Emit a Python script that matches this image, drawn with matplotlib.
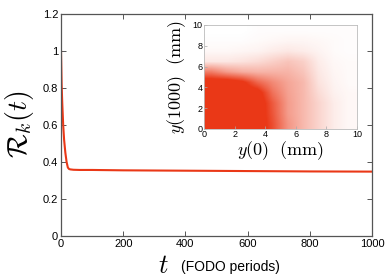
import numpy as np
import matplotlib
matplotlib.use("Agg")
import matplotlib.pyplot as plt
from matplotlib.colors import LinearSegmentedColormap

plt.rcParams['font.family'] = ['Liberation Sans', 'DejaVu Sans']
plt.rcParams['mathtext.fontset'] = 'cm'

# Main curve: R_k(t) vs t (FODO periods)
t_vals = [0, 2, 4, 7, 10, 14, 18, 22, 26, 30, 40, 60, 100, 200, 400, 600, 800, 1000]
r_vals = [1.0, 0.82, 0.72, 0.60, 0.52, 0.45, 0.40, 0.37, 0.362, 0.36, 0.358, 0.357,
          0.357, 0.355, 0.353, 0.351, 0.349, 0.348]
x_ticks = [0, 200, 400, 600, 800, 1000]
y_ticks = [0, 0.2, 0.4, 0.6, 0.8, 1.0, 1.2]
y_ticklabels = ['0', '0.2', '0.4', '0.6', '0.8', '1', '1.2']

# Inset: visual point coverage of y(1000) vs y(0), 1 mm cells
# (rows: y(1000) 0..9 mm, cols: y(0) 0..9 mm)
inset_density = [
    [1, 1, 1, 1, 0.75, 0.45, 0.3, 0.18, 0.08, 0.03],
    [1, 1, 1, 1, 0.72, 0.42, 0.3, 0.18, 0.08, 0.03],
    [1, 1, 1, 1, 0.7, 0.42, 0.3, 0.18, 0.08, 0.03],
    [1, 1, 1, 0.95, 0.6, 0.4, 0.3, 0.15, 0.06, 0.03],
    [1, 1, 0.9, 0.65, 0.5, 0.38, 0.3, 0.12, 0.05, 0.02],
    [0.55, 0.42, 0.35, 0.32, 0.32, 0.32, 0.25, 0.1, 0.04, 0.02],
    [0.1, 0.1, 0.12, 0.15, 0.2, 0.25, 0.2, 0.08, 0.03, 0.02],
    [0.03, 0.03, 0.04, 0.05, 0.08, 0.1, 0.08, 0.05, 0.02, 0.01],
    [0.01, 0.01, 0.01, 0.02, 0.03, 0.04, 0.04, 0.03, 0.02, 0.01],
    [0, 0, 0, 0.01, 0.01, 0.01, 0.01, 0.01, 0.01, 0.01],
]
inset_ticks = [0, 2, 4, 6, 8, 10]

red = '#EA3817'
spine_c = '#555555'

fig = plt.figure(figsize=(3.88, 2.79), dpi=100)
ax = fig.add_axes([61/388, 1-236/279, (372-61)/388, (236-14)/279])
ax.plot(t_vals, r_vals, color=red, lw=1.5)
ax.set_xlim(0, 1000)
ax.set_ylim(0, 1.2)
ax.set_xticks(x_ticks)
ax.set_yticks(y_ticks)
ax.set_yticklabels(y_ticklabels)
ax.tick_params(direction='in', top=True, right=True, length=3.5, width=0.7,
               labelsize=8, color=spine_c, pad=2)
for s in ax.spines.values():
    s.set_color(spine_c)
    s.set_linewidth(0.9)

fig.text(19/388, 1-124/279, r'$\mathcal{R}_k(t)$', fontsize=20, rotation=90,
         ha='center', va='center')
fig.text(163/388, 1-266/279, r'$t$', fontsize=19, ha='center', va='center')
fig.text(181/388, 1-267/279, '(FODO periods)', fontsize=10, ha='left', va='center')

# Inset
axi = fig.add_axes([204/388, 1-129/279, (357-204)/388, (129-25)/279])
cmap = LinearSegmentedColormap.from_list('wr', ['#FFFFFF', red])
axi.imshow(np.array(inset_density), origin='lower', extent=[0, 10, 0, 10],
           cmap=cmap, vmin=0, vmax=0.85, interpolation='bilinear', aspect='auto')
axi.set_xlim(0, 10)
axi.set_ylim(0, 10)
axi.set_xticks(inset_ticks)
axi.set_yticks(inset_ticks)
axi.tick_params(direction='in', length=2, width=0.5, labelsize=6.5, pad=1, color='#aaaaaa')
for s in axi.spines.values():
    s.set_color('#bbbbbb')
    s.set_linewidth(0.6)
axi.set_xlabel(r'$y(0)\ \ \mathrm{(mm)}$', fontsize=13, labelpad=0)
axi.set_ylabel(r'$y(1000)\ \ \mathrm{(mm)}$', fontsize=13, labelpad=3)

fig.savefig('out.png', dpi=100)
